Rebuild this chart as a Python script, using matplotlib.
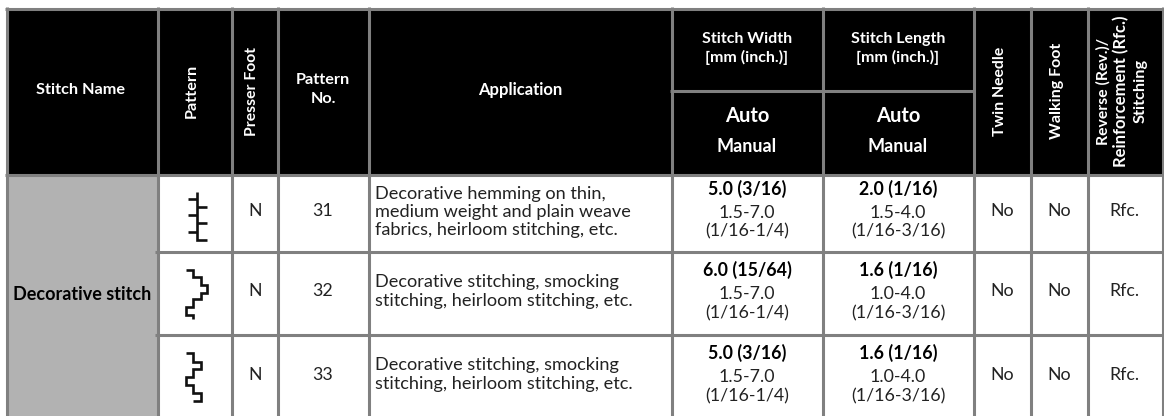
import matplotlib
matplotlib.use("Agg")
import matplotlib.pyplot as plt

plt.rcParams['font.family'] = ['Lato', 'DejaVu Sans']

GRAY = '#808080'

# table contents
stitch_name = "Decorative stitch"
feet = ["N", "N", "N"]
pattern_no = ["31", "32", "33"]
applications = [
    ["Decorative hemming on thin,", "medium weight and plain weave", "fabrics, heirloom stitching, etc."],
    ["Decorative stitching, smocking", "stitching, heirloom stitching, etc."],
    ["Decorative stitching, smocking", "stitching, heirloom stitching, etc."],
]
width_auto = ["5.0 (3/16)", "6.0 (15/64)", "5.0 (3/16)"]
width_manual = ["1.5-7.0", "1.5-7.0", "1.5-7.0"]
width_inch = ["(1/16-1/4)", "(1/16-1/4)", "(1/16-1/4)"]
length_auto = ["2.0 (1/16)", "1.6 (1/16)", "1.6 (1/16)"]
length_manual = ["1.5-4.0", "1.0-4.0", "1.0-4.0"]
length_inch = ["(1/16-3/16)", "(1/16-3/16)", "(1/16-3/16)"]
twin = ["No", "No", "No"]
walking = ["No", "No", "No"]
reverse = ["Rfc.", "Rfc.", "Rfc."]

# grid, in pixels
col_lines = [157.5, 232, 278, 368.5, 672, 823, 973.5, 1030.5, 1087.5]
row_lines = [252, 335]
row_mid = [211, 291, 375]
app_y = [[194, 212, 230], [282, 301], [365, 384]]
auto_y = [189, 270, 353]
manual_y = [213, 294, 377]
inch_y = [231, 313, 396]

# stitch icons, one list of polylines per row
icon_31 = [
    [(197, 192), (197, 240), (207, 240)],
    [(197, 207), (207, 207)],
    [(197, 223), (207, 223)],
    [(188, 199), (197, 199)],
    [(188, 215), (197, 215)],
    [(188, 232), (197, 232)],
]
icon_32 = [[(186, 270), (193, 270), (193, 277), (200.5, 277), (200.5, 285), (206.5, 285),
            (206.5, 293), (200.5, 293), (200.5, 299), (193, 299), (193, 307), (186, 307),
            (186, 315), (193, 315), (193, 319)]]
icon_33 = [[(186, 353), (193, 353), (193, 361.5), (200.5, 361.5), (200.5, 369), (193, 369),
            (193, 377), (186, 377), (186, 385), (193, 385), (193, 393), (200.5, 393),
            (200.5, 401), (193, 401)]]


def txt(ax, x, y, s, size=12.8, color='#222222', weight='normal', rot=0, ha='center'):
    ax.text(x, y, s, fontsize=size, color=color, fontweight=weight, rotation=rot,
            ha=ha, va='center', linespacing=0.95)


fig = plt.figure(figsize=(11.64, 4.16), dpi=100)
ax = fig.add_axes([0, 0, 1, 1])
ax.set_xlim(0, 1164)
ax.set_ylim(416, 0)
ax.axis('off')

# fills
ax.fill_between([6, 1162], 8, 174, color='black', lw=0)
ax.fill_between([6, 157], 174, 416, color='#b2b2b2', lw=0)

# grid lines
lw = 2.2
for x in [6.5, 1162.5] + col_lines:
    ax.plot([x, x], [7, 416], color=GRAY, lw=lw, solid_capstyle='butt')
ax.plot([5, 1164], [8.5, 8.5], color=GRAY, lw=lw, solid_capstyle='butt')
ax.plot([5, 1164], [174.5, 174.5], color=GRAY, lw=lw, solid_capstyle='butt')
ax.plot([670, 973], [91.3, 91.3], color=GRAY, lw=lw, solid_capstyle='butt')
for y in row_lines:
    ax.plot([155, 1164], [y, y], color=GRAY, lw=lw, solid_capstyle='butt')

# header
W = 'white'
H = 11.7
txt(ax, 81, 90, "Stitch Name", H, W, 'bold')
txt(ax, 192, 91, "Pattern", H, W, 'bold', 90)
txt(ax, 252, 91, "Presser Foot", 11.3, W, 'bold', 90)
txt(ax, 323, 80, "Pattern", H, W, 'bold')
txt(ax, 323, 99, "No.", H, W, 'bold')
txt(ax, 520, 90, "Application", 12, W, 'bold')
for x, name in [(747, "Stitch Width"), (898, "Stitch Length")]:
    txt(ax, x, 39, name, 11.5, W, 'bold')
    txt(ax, x, 57, "[mm (inch.)]", 11.5, W, 'bold')
    txt(ax, x, 116, "Auto", 14.5, W, 'bold')
    txt(ax, x, 147, "Manual", 13, W, 'bold')
txt(ax, 1000, 91, "Twin Needle", 11.3, W, 'bold', 90)
txt(ax, 1057, 91, "Walking Foot", 11.5, W, 'bold', 90)
txt(ax, 1103, 91, "Reverse (Rev.)/", 11.3, W, 'bold', 90)
txt(ax, 1121, 91, "Reinforcement (Rfc.)", 12, W, 'bold', 90)
txt(ax, 1141, 91, "Stitching", H, W, 'bold', 90)

# body
txt(ax, 82, 294, stitch_name, 13, 'black', 'bold')
for i in range(3):
    txt(ax, 255, row_mid[i], feet[i])
    txt(ax, 323, row_mid[i], pattern_no[i])
    for y, line in zip(app_y[i], applications[i]):
        txt(ax, 375, y, line, 13.1, ha='left')
    txt(ax, 747, auto_y[i], width_auto[i], 12.8, 'black', 'bold')
    txt(ax, 747, manual_y[i], width_manual[i])
    txt(ax, 747, inch_y[i], width_inch[i])
    txt(ax, 898, auto_y[i], length_auto[i], 12.8, 'black', 'bold')
    txt(ax, 898, manual_y[i], length_manual[i])
    txt(ax, 898, inch_y[i], length_inch[i])
    txt(ax, 1002, row_mid[i], twin[i])
    txt(ax, 1059, row_mid[i], walking[i])
    txt(ax, 1124, row_mid[i], reverse[i])

# icons
for icon in [icon_31, icon_32, icon_33]:
    for part in icon:
        xs = [p[0] for p in part]
        ys = [p[1] for p in part]
        ax.plot(xs, ys, color='#111111', lw=1.9, solid_joinstyle='miter', solid_capstyle='butt')

fig.savefig('out.png', dpi=100)
